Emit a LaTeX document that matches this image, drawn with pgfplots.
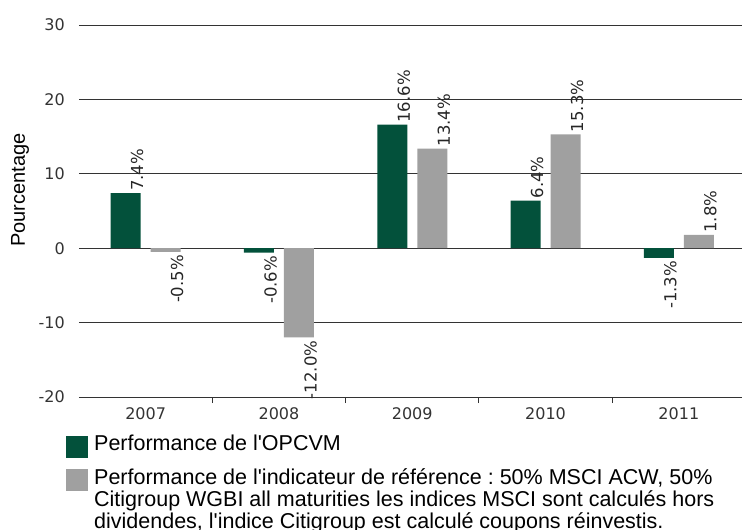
\documentclass[border=0pt]{standalone}
\usepackage{pgfplots}
\pgfplotsset{compat=1.18}
\usepackage{fontspec}
\setmainfont{Liberation Sans}
\newfontfamily\verd{DejaVu Sans}
\definecolor{opcvm}{HTML}{03513B}
\definecolor{indic}{HTML}{A0A0A0}
\frenchspacing
\renewcommand{\arraystretch}{0.96}
\begin{document}
\begin{tikzpicture}
\useasboundingbox (-79pt,-133pt) rectangle (663pt,397pt);
\begin{axis}[
  scale only axis,
  width=666.5pt, height=372pt,
  at={(0pt,0pt)}, anchor=south west,
  xmin=-0.5, xmax=4.5,
  ymin=-20, ymax=30,
  ytick={-20,-10,0,10,20,30},
  xtick={0,1,2,3,4},
  xticklabels={2007,2008,2009,2010,2011},
  axis line style={draw=none},
  major tick length=0pt,
  tick pos=left,
  ymajorgrids,
  grid style={black!80, line width=0.9pt},
  tick label style={font=\verd\fontsize{16}{16}\selectfont, text=black!80},
  /pgf/number format/assume math mode=true,
  yticklabel style={anchor=east, inner sep=0pt, xshift=-14pt},
  xticklabel style={anchor=north, inner sep=0pt, yshift=-10pt},
  extra x ticks={0.5,1.5,2.5,3.5},
  extra x tick labels={},
  extra x tick style={grid=none, major tick length=6pt, tick align=outside, xtick style={draw=black!80, line width=1pt}},
  ybar, bar width=30pt,
  ylabel={Pourcentage},
  ylabel style={at={(axis description cs:-0.0885,0.556)}, anchor=center, font=\fontsize{20}{20}\selectfont},
  legend style={at={(axis description cs:0,0)}, anchor=north west, xshift=-13pt, yshift=-36pt, draw=none, fill=none, inner sep=0pt, font=\fontsize{21.5}{21.5}\selectfont, cells={anchor=west}, row sep=9pt, column sep=4.5pt},
  legend image code/.code={\fill[#1, draw=none] (0pt,-14pt) rectangle (21.5pt,8pt);},
  nodes near coords={\pgfmathprintnumber[fixed,fixed zerofill,precision=1]{\pgfplotspointmeta}\%},
  pos/.style={every node near coord/.append style={font=\verd\fontsize{16.5}{16.5}\selectfont, text=black!85, xshift=18pt, rotate=90, anchor=south west, inner xsep=2pt, inner ysep=0pt}},
  neg/.style={every node near coord/.append style={font=\verd\fontsize{16.5}{16.5}\selectfont, text=black!85, xshift=18pt, rotate=90, anchor=south east, inner xsep=3pt, inner ysep=0pt}},
]
\addplot[fill=opcvm, draw=none, bar shift=-20pt, pos] coordinates {(0,7.4) (2,16.6) (3,6.4)};
\addlegendentry{Performance de l\textquotesingle OPCVM}
\addplot[fill=indic, draw=none, bar shift=20pt, pos] coordinates {(2,13.4) (3,15.3) (4,1.8)};
\addlegendentry{\begin{tabular}[t]{@{}l@{}}Performance de l\textquotesingle indicateur de référence : 50\% MSCI ACW, 50\%\\Citigroup WGBI all maturities les indices MSCI sont calculés hors\\dividendes, l\textquotesingle indice Citigroup est calculé coupons réinvestis.\end{tabular}}
\addplot[fill=opcvm, draw=none, bar shift=-20pt, neg, forget plot] coordinates {(1,-0.6) (4,-1.3)};
\addplot[fill=indic, draw=none, bar shift=20pt, neg, forget plot] coordinates {(0,-0.5) (1,-12.0)};
\end{axis}
\end{tikzpicture}
\end{document}
